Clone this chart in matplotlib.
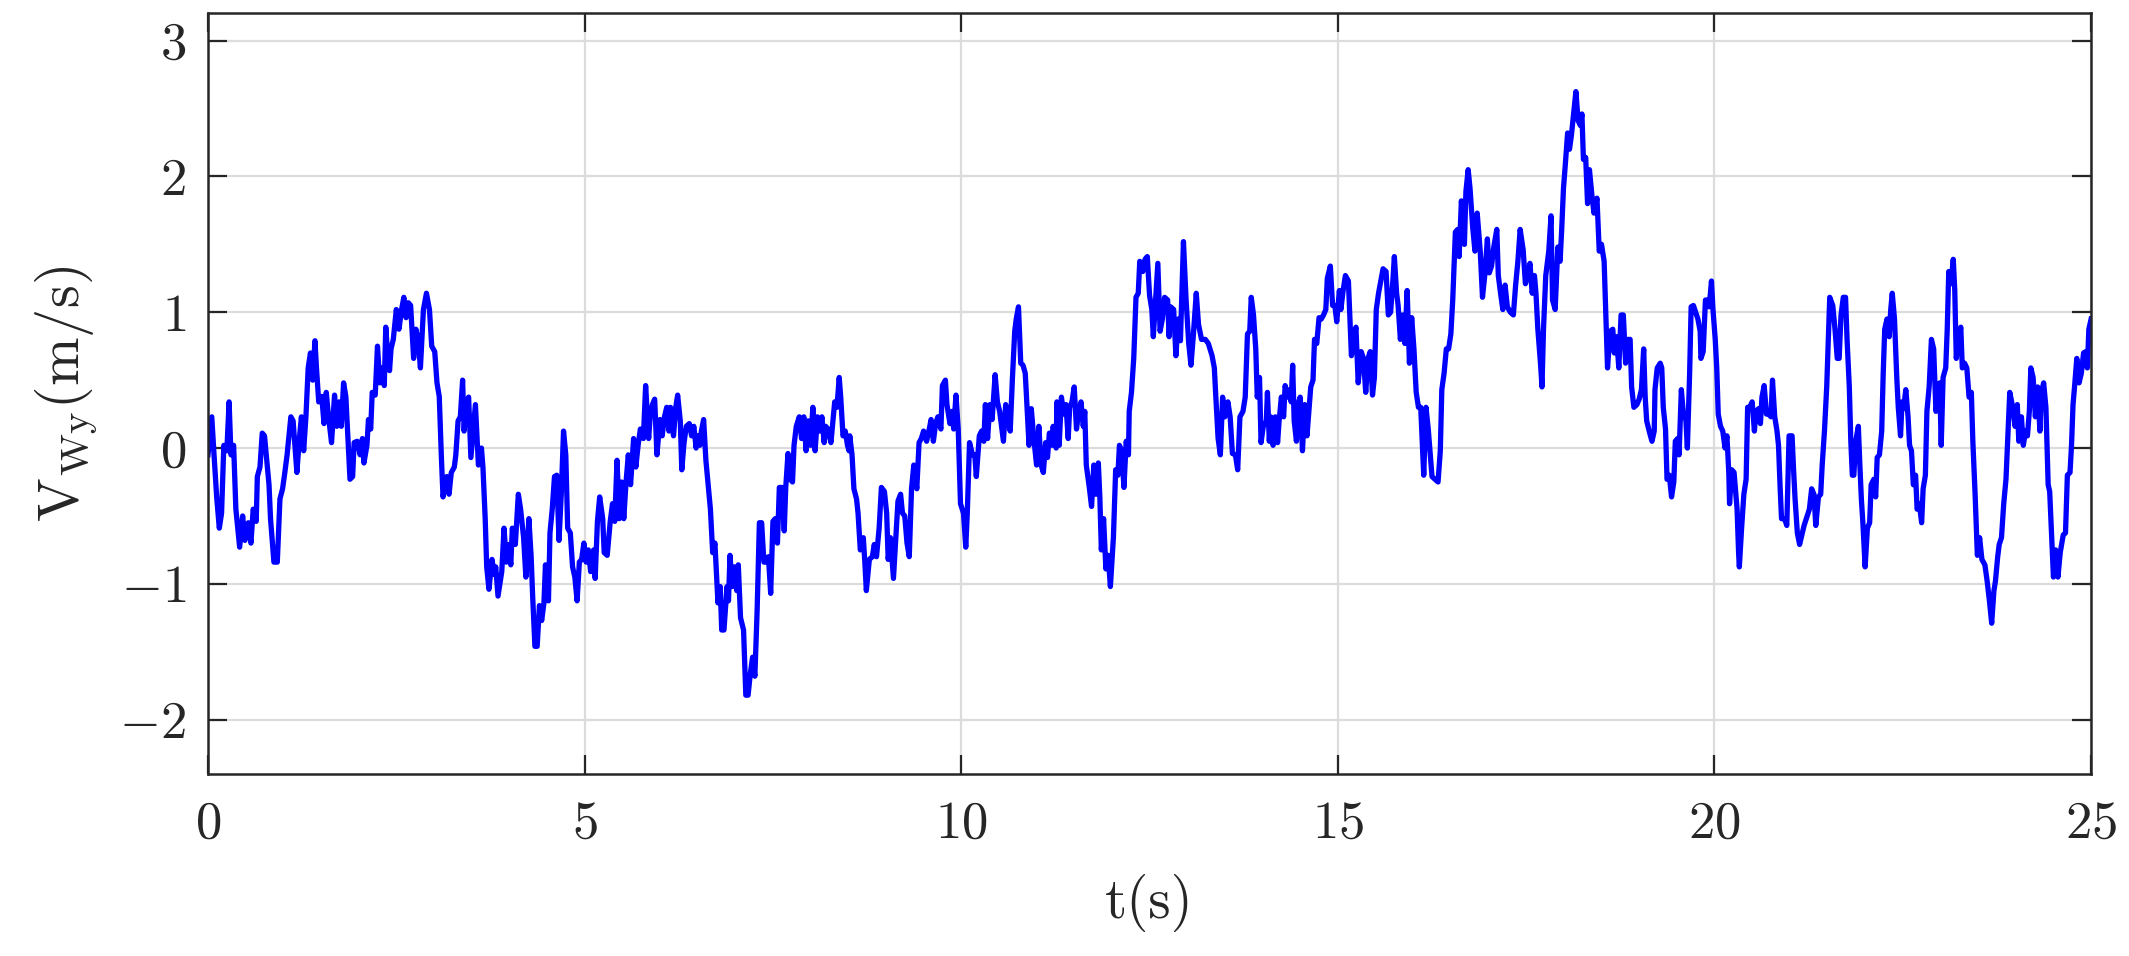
import numpy as np
import matplotlib
matplotlib.use("Agg")
import matplotlib.pyplot as plt

# wind speed V_Wy (m/s), (t, v) pairs per stretch of time
seg_a = [(0.00, -0.05), (0.05, 0.23), (0.08, -0.05), (0.115, -0.36), (0.15, -0.59), (0.18, -0.48),
         (0.21, 0.02), (0.25, -0.02), (0.28, 0.34), (0.305, -0.05), (0.34, 0.02), (0.37, -0.45),
         (0.42, -0.73), (0.46, -0.5), (0.49, -0.68), (0.535, -0.55), (0.57, -0.7), (0.60, -0.45),
         (0.64, -0.54), (0.655, -0.21), (0.69, -0.14), (0.72, 0.11), (0.75, 0.09), (0.78, -0.09),
         (0.81, -0.27), (0.83, -0.52), (0.875, -0.84), (0.92, -0.84), (0.955, -0.375), (0.99, -0.3),
         (1.02, -0.18), (1.05, -0.05), (1.10, 0.23), (1.13, 0.2), (1.18, -0.18), (1.21, 0.05),
         (1.24, 0.23), (1.27, -0.02), (1.30, 0.23), (1.33, 0.59), (1.36, 0.7), (1.39, 0.5),
         (1.42, 0.79), (1.44, 0.59), (1.47, 0.34), (1.51, 0.38), (1.54, 0.18), (1.57, 0.41),
         (1.60, 0.23), (1.64, 0.04), (1.68, 0.39), (1.71, 0.16), (1.74, 0.34), (1.77, 0.16),
         (1.80, 0.48), (1.83, 0.38), (1.86, 0.05), (1.885, -0.23), (1.92, -0.21), (1.94, 0.04),
         (1.98, 0.05), (2.02, -0.05), (2.05, 0.07), (2.07, -0.11), (2.11, 0.02), (2.13, 0.21),
         (2.16, 0.14), (2.18, 0.41), (2.22, 0.39), (2.25, 0.75), (2.28, 0.48), (2.31, 0.59),
         (2.34, 0.46), (2.36, 0.89), (2.38, 0.73), (2.41, 0.57), (2.43, 0.73), (2.46, 0.80),
         (2.50, 1.02), (2.535, 0.875), (2.57, 1.02), (2.60, 1.11), (2.63, 0.96), (2.66, 1.07),
         (2.69, 1.05), (2.73, 0.66), (2.76, 0.875), (2.79, 0.80), (2.82, 0.59), (2.86, 1.02),
         (2.90, 1.14), (2.94, 1.02), (2.97, 0.75), (3.01, 0.71), (3.04, 0.48), (3.07, 0.38),
         (3.10, -0.09), (3.12, -0.36), (3.17, -0.21), (3.20, -0.34), (3.23, -0.18), (3.27, -0.14),
         (3.29, -0.05), (3.32, 0.2), (3.35, 0.23), (3.38, 0.5), (3.40, 0.125), (3.43, 0.34),
         (3.46, 0.375), (3.49, -0.07), (3.52, 0.125), (3.55, 0.32), (3.59, -0.125), (3.63, 0.0),
         (3.65, -0.14), (3.68, -0.52), (3.70, -0.875), (3.73, -1.04), (3.77, -0.82), (3.80, -0.93),
         (3.82, -0.875), (3.85, -1.09), (3.90, -0.91), (3.93, -0.59), (3.96, -0.84), (3.99, -0.71),
         (4.02, -0.86), (4.04, -0.59), (4.08, -0.71), (4.12, -0.34), (4.15, -0.45), (4.19, -0.66),
         (4.22, -0.95)]

seg_b = [(4.26, -0.52), (4.29, -0.80), (4.31, -1.09), (4.34, -1.46), (4.37, -1.46), (4.40, -1.16),
         (4.43, -1.27), (4.46, -1.14), (4.48, -0.86), (4.52, -1.125), (4.54, -0.625), (4.57, -0.45),
         (4.60, -0.21), (4.63, -0.20), (4.66, -0.68), (4.69, -0.34), (4.72, 0.125), (4.75, -0.05),
         (4.775, -0.59), (4.81, -0.625), (4.84, -0.875), (4.87, -0.95), (4.90, -1.125), (4.93, -0.84),
         (4.96, -0.82), (4.99, -0.70), (5.02, -0.84), (5.05, -0.75), (5.08, -0.91), (5.12, -0.75),
         (5.14, -0.96), (5.17, -0.54), (5.20, -0.36), (5.24, -0.52), (5.26, -0.77), (5.30, -0.79),
         (5.34, -0.54), (5.37, -0.41), (5.40, -0.54), (5.43, -0.09), (5.46, -0.52), (5.49, -0.25),
         (5.52, -0.52), (5.55, -0.25), (5.58, -0.05), (5.61, -0.27), (5.65, 0.07), (5.68, -0.14),
         (5.71, 0.02), (5.74, 0.14), (5.78, 0.07), (5.81, 0.46), (5.85, 0.07), (5.87, 0.23),
         (5.90, 0.32), (5.93, 0.36), (5.96, -0.05), (6.00, 0.21), (6.03, 0.09), (6.06, 0.23),
         (6.09, 0.30), (6.12, 0.125), (6.14, 0.30), (6.18, 0.09), (6.21, 0.30), (6.235, 0.39),
         (6.27, 0.20), (6.29, -0.16), (6.32, 0.04), (6.35, 0.16), (6.39, 0.18), (6.42, 0.09),
         (6.45, 0.16), (6.48, 0.0), (6.50, 0.09), (6.53, 0.02), (6.55, 0.125), (6.58, 0.21),
         (6.61, -0.09), (6.64, -0.27), (6.67, -0.45), (6.70, -0.77), (6.73, -0.70), (6.77, -1.14),
         (6.80, -1.02), (6.82, -1.34), (6.85, -1.34), (6.89, -1.02), (6.91, -1.125), (6.93, -0.79),
         (6.96, -1.02), (6.99, -0.875), (7.02, -1.05), (7.04, -0.86), (7.07, -1.25), (7.11, -1.34),
         (7.14, -1.82), (7.17, -1.82), (7.20, -1.66), (7.23, -1.54), (7.26, -1.68), (7.29, -1.20),
         (7.32, -0.55), (7.35, -0.55), (7.38, -0.84), (7.41, -0.84), (7.44, -0.80), (7.47, -1.07),
         (7.50, -0.54), (7.53, -0.52), (7.56, -0.70), (7.585, -0.29), (7.62, -0.29), (7.65, -0.61),
         (7.67, -0.29), (7.70, -0.04), (7.73, -0.23), (7.76, -0.25), (7.78, 0.02), (7.81, 0.16),
         (7.85, 0.23), (7.88, 0.07), (7.91, 0.23), (7.94, -0.02), (7.97, 0.20), (8.00, 0.02),
         (8.03, 0.30), (8.06, -0.02), (8.09, 0.23), (8.12, 0.125), (8.15, 0.23), (8.18, 0.04),
         (8.20, 0.16), (8.23, 0.14), (8.27, 0.04), (8.29, 0.16), (8.32, 0.34), (8.35, 0.30),
         (8.38, 0.52), (8.40, 0.375), (8.43, 0.09), (8.46, 0.125), (8.49, 0.02), (8.51, -0.02)]

seg_c = [(8.52, 0.09), (8.55, -0.05), (8.575, -0.30), (8.61, -0.375), (8.63, -0.48), (8.66, -0.75),
         (8.70, -0.66), (8.72, -0.84), (8.74, -1.05), (8.78, -0.82), (8.82, -0.80), (8.845, -0.71),
         (8.875, -0.80), (8.91, -0.59), (8.94, -0.29), (8.98, -0.32), (9.01, -0.48), (9.03, -0.82),
         (9.06, -0.66), (9.10, -0.96), (9.13, -0.68), (9.16, -0.39), (9.195, -0.34), (9.22, -0.48),
         (9.25, -0.50), (9.28, -0.70), (9.31, -0.80), (9.34, -0.30), (9.37, -0.125), (9.41, -0.30),
         (9.44, 0.04), (9.47, 0.07), (9.50, 0.125), (9.54, 0.05), (9.57, 0.125), (9.60, 0.21),
         (9.63, 0.05), (9.66, 0.18), (9.69, 0.23), (9.73, 0.14), (9.75, 0.46), (9.79, 0.50),
         (9.81, 0.32), (9.85, 0.18), (9.88, 0.27), (9.90, 0.14), (9.93, 0.39), (9.96, 0.14),
         (9.99, -0.41), (10.03, -0.48), (10.06, -0.73), (10.08, -0.48), (10.11, 0.04), (10.15, -0.05),
         (10.18, -0.05), (10.20, -0.21), (10.24, 0.09), (10.27, 0.125), (10.30, 0.05), (10.32, 0.32),
         (10.35, 0.07), (10.38, 0.32), (10.41, 0.21), (10.45, 0.54), (10.48, 0.34), (10.51, 0.27),
         (10.56, 0.05), (10.59, 0.32), (10.62, 0.23), (10.65, 0.125), (10.68, 0.52), (10.71, 0.86),
         (10.73, 0.95), (10.76, 1.04), (10.79, 0.625), (10.82, 0.61), (10.85, 0.55), (10.88, 0.23),
         (10.90, 0.02), (10.93, 0.29), (10.96, 0.09), (11.00, -0.125), (11.03, 0.16), (11.06, -0.125),
         (11.09, -0.18), (11.12, 0.04), (11.145, -0.07), (11.17, 0.11), (11.20, 0.02), (11.22, 0.16),
         (11.26, 0.0), (11.27, 0.34), (11.30, 0.02), (11.33, 0.375), (11.36, 0.25), (11.39, 0.32),
         (11.42, 0.07), (11.44, 0.30), (11.47, 0.34), (11.50, 0.45), (11.53, 0.14), (11.56, 0.27),
         (11.59, 0.34), (11.62, 0.16), (11.64, 0.27), (11.66, -0.125), (11.70, -0.29), (11.73, -0.43),
         (11.76, -0.125), (11.79, -0.34), (11.82, -0.11), (11.84, -0.36), (11.86, -0.75), (11.89, -0.52),
         (11.92, -0.89), (11.95, -0.79), (11.98, -1.02), (12.02, -0.66), (12.05, -0.16), (12.08, -0.20),
         (12.10, 0.02), (12.13, -0.02), (12.16, -0.29), (12.19, 0.05), (12.22, -0.05), (12.23, 0.27),
         (12.26, 0.41), (12.29, 0.66), (12.32, 1.11), (12.35, 1.14), (12.37, 1.375), (12.41, 1.30),
         (12.44, 1.39), (12.47, 1.41), (12.50, 1.125), (12.53, 1.02), (12.55, 0.82), (12.58, 1.09),
         (12.61, 1.36), (12.64, 0.86), (12.67, 0.95), (12.70, 1.11), (12.74, 1.09), (12.76, 0.82)]

seg_d = [(12.78, 1.04), (12.82, 1.02), (12.85, 0.68), (12.88, 0.95), (12.91, 0.79), (12.95, 1.52),
         (12.985, 1.09), (13.02, 0.77), (13.05, 0.61), (13.08, 0.82), (13.12, 1.14), (13.15, 0.91),
         (13.19, 0.80), (13.24, 0.80), (13.28, 0.77), (13.33, 0.68), (13.36, 0.59), (13.38, 0.375),
         (13.41, 0.07), (13.44, -0.05), (13.47, 0.375), (13.50, 0.23), (13.54, 0.34), (13.57, 0.23),
         (13.60, -0.04), (13.64, -0.05), (13.67, -0.16), (13.70, 0.23), (13.74, 0.27), (13.77, 0.375),
         (13.80, 0.84), (13.83, 0.86), (13.85, 1.11), (13.88, 0.98), (13.91, 0.73), (13.93, 0.375),
         (13.96, 0.52), (13.98, 0.04), (14.01, 0.16), (14.05, 0.20), (14.065, 0.41), (14.09, 0.05),
         (14.11, 0.23), (14.14, 0.02), (14.17, 0.23), (14.20, 0.04), (14.22, 0.20), (14.25, 0.375),
         (14.28, 0.23), (14.30, 0.46), (14.33, 0.375), (14.36, 0.43), (14.38, 0.34), (14.40, 0.61),
         (14.42, 0.20), (14.45, 0.05), (14.48, 0.34), (14.50, 0.375), (14.53, -0.02), (14.56, 0.32),
         (14.59, 0.09), (14.62, 0.30), (14.64, 0.45), (14.67, 0.50), (14.69, 0.80), (14.72, 0.77),
         (14.75, 0.96), (14.78, 0.95), (14.81, 0.98), (14.84, 1.02), (14.86, 1.25), (14.90, 1.34),
         (14.93, 1.05), (14.96, 1.05), (14.985, 0.93), (15.02, 1.16), (15.04, 1.02), (15.07, 1.16),
         (15.10, 1.27), (15.14, 1.23), (15.16, 0.95), (15.18, 0.68), (15.22, 0.84), (15.24, 0.89),
         (15.27, 0.48), (15.31, 0.71), (15.34, 0.66), (15.37, 0.41), (15.40, 0.66), (15.43, 0.71),
         (15.46, 0.39), (15.485, 0.52), (15.51, 1.02), (15.54, 1.14), (15.57, 1.23), (15.60, 1.32),
         (15.64, 1.30), (15.67, 0.98), (15.70, 1.0), (15.73, 1.23), (15.75, 1.41), (15.78, 1.14),
         (15.80, 1.05), (15.83, 0.80), (15.86, 0.98), (15.89, 0.77), (15.92, 1.16), (15.95, 0.625),
         (15.98, 0.96), (16.01, 0.73), (16.04, 0.41), (16.07, 0.30), (16.10, 0.30), (16.14, -0.20),
         (16.17, 0.30), (16.20, 0.14), (16.22, 0.0), (16.25, -0.21), (16.29, -0.23), (16.33, -0.25),
         (16.36, -0.02), (16.38, 0.43), (16.41, 0.55), (16.44, 0.73), (16.47, 0.73), (16.50, 0.84),
         (16.525, 1.09), (16.56, 1.59), (16.59, 1.61), (16.61, 1.41), (16.64, 1.82), (16.68, 1.50),
         (16.70, 1.89), (16.73, 2.05), (16.755, 1.91), (16.79, 1.625), (16.82, 1.45), (16.85, 1.73),
         (16.89, 1.45), (16.92, 1.11), (16.95, 1.27), (16.985, 1.54)]

seg_e = [(17.01, 1.29), (17.04, 1.34), (17.07, 1.48), (17.11, 1.61), (17.13, 1.27), (17.16, 1.14),
         (17.19, 1.02), (17.22, 1.20), (17.25, 1.04), (17.29, 1.0), (17.33, 0.98), (17.36, 1.20),
         (17.39, 1.375), (17.42, 1.61), (17.46, 1.46), (17.49, 1.21), (17.52, 1.27), (17.55, 1.36),
         (17.58, 1.14), (17.61, 1.27), (17.63, 1.14), (17.655, 0.875), (17.69, 0.625), (17.71, 0.45),
         (17.73, 0.875), (17.76, 1.27), (17.80, 1.45), (17.83, 1.71), (17.85, 1.09), (17.885, 1.02),
         (17.92, 1.48), (17.95, 1.375), (17.97, 1.59), (17.995, 1.91), (18.02, 2.09), (18.05, 2.32),
         (18.075, 2.20), (18.10, 2.30), (18.13, 2.46), (18.16, 2.625), (18.19, 2.41), (18.22, 2.375),
         (18.24, 2.46), (18.26, 2.125), (18.29, 2.14), (18.315, 1.80), (18.34, 2.05), (18.37, 1.875),
         (18.40, 1.73), (18.44, 1.84), (18.47, 1.45), (18.50, 1.50), (18.535, 1.375), (18.56, 0.95),
         (18.58, 0.59), (18.615, 0.86), (18.65, 0.875), (18.67, 0.70), (18.70, 0.82), (18.73, 0.59),
         (18.76, 0.98), (18.79, 0.98), (18.82, 0.625), (18.85, 0.80), (18.88, 0.80), (18.90, 0.45),
         (18.93, 0.30), (18.97, 0.32), (19.00, 0.36), (19.03, 0.43), (19.06, 0.73), (19.08, 0.375),
         (19.10, 0.20), (19.14, 0.11), (19.17, 0.05), (19.20, 0.125), (19.21, 0.43), (19.24, 0.59),
         (19.28, 0.625), (19.30, 0.59), (19.32, 0.30), (19.35, 0.14), (19.37, -0.23), (19.40, -0.20),
         (19.43, -0.36), (19.46, -0.25), (19.48, 0.05), (19.51, 0.07), (19.53, -0.05), (19.56, 0.43),
         (19.59, 0.23), (19.62, 0.21), (19.64, 0.0), (19.67, 0.55), (19.69, 1.04), (19.72, 1.05),
         (19.75, 1.0), (19.78, 0.95), (19.81, 0.86), (19.82, 0.66), (19.85, 0.71), (19.88, 1.09),
         (19.91, 1.09), (19.93, 1.04), (19.96, 1.23), (19.98, 1.02), (20.01, 0.80), (20.03, 0.59),
         (20.05, 0.25), (20.08, 0.16), (20.11, 0.125), (20.14, 0.0), (20.165, 0.09), (20.19, -0.18),
         (20.20, -0.41), (20.23, -0.16), (20.26, -0.18), (20.30, -0.45), (20.32, -0.77), (20.33, -0.875),
         (20.36, -0.59), (20.39, -0.34), (20.42, -0.23), (20.44, 0.30), (20.47, 0.30), (20.50, 0.34),
         (20.53, 0.125), (20.55, 0.27), (20.585, 0.29), (20.61, 0.18), (20.63, 0.375), (20.66, 0.46),
         (20.69, 0.25), (20.72, 0.25), (20.75, 0.23), (20.77, 0.50), (20.80, 0.23), (20.83, 0.125),
         (20.85, 0.02), (20.87, -0.27), (20.89, -0.52), (20.93, -0.52), (20.96, -0.57), (20.99, 0.09),
         (21.03, 0.09), (21.05, -0.16), (21.07, -0.375), (21.10, -0.625), (21.13, -0.71), (21.16, -0.64),
         (21.19, -0.57), (21.23, -0.50), (21.26, -0.45)]

seg_f = [(21.29, -0.30), (21.32, -0.34), (21.345, -0.57), (21.38, -0.36), (21.41, -0.34), (21.43, -0.125),
         (21.46, 0.125), (21.49, 0.45), (21.51, 0.77), (21.53, 1.11), (21.57, 1.05), (21.60, 0.875),
         (21.63, 0.66), (21.655, 0.66), (21.68, 0.98), (21.71, 1.11), (21.74, 1.11), (21.76, 0.80),
         (21.79, 0.45), (21.81, 0.05), (21.83, -0.20), (21.85, -0.20), (21.875, 0.05), (21.91, 0.16),
         (21.93, -0.125), (21.95, -0.375), (21.97, -0.55), (22.00, -0.875), (22.03, -0.59), (22.06, -0.55),
         (22.08, -0.27), (22.115, -0.23), (22.14, -0.36), (22.16, -0.07), (22.19, -0.05), (22.22, 0.125),
         (22.24, 0.55), (22.26, 0.875), (22.29, 0.95), (22.32, 0.82), (22.34, 1.02), (22.36, 1.14),
         (22.39, 0.95), (22.42, 0.52), (22.44, 0.30), (22.47, 0.09), (22.49, 0.34), (22.51, 0.29),
         (22.54, 0.43), (22.57, 0.23), (22.59, 0.02), (22.615, -0.02), (22.64, -0.27), (22.67, -0.20),
         (22.69, -0.45), (22.72, -0.41), (22.75, -0.55), (22.77, -0.30), (22.80, -0.20), (22.82, 0.27),
         (22.85, 0.45), (22.88, 0.80), (22.91, 0.73), (22.94, 0.27), (22.97, 0.375), (22.99, 0.48),
         (23.01, 0.02), (23.035, 0.52), (23.07, 0.59), (23.09, 0.875), (23.11, 1.30), (23.14, 1.21),
         (23.17, 1.39), (23.19, 1.16), (23.21, 0.66), (23.24, 0.80), (23.27, 0.89), (23.29, 0.59),
         (23.32, 0.625), (23.35, 0.59), (23.38, 0.375), (23.41, 0.41), (23.43, 0.05), (23.46, -0.34),
         (23.49, -0.79), (23.52, -0.66), (23.55, -0.82), (23.59, -0.86), (23.62, -0.98), (23.65, -1.125),
         (23.68, -1.29), (23.71, -1.05), (23.73, -0.98), (23.76, -0.80), (23.78, -0.71), (23.81, -0.66),
         (23.84, -0.41), (23.87, -0.23), (23.90, 0.16), (23.92, 0.41), (23.96, 0.30), (23.99, 0.16),
         (24.02, 0.32), (24.04, 0.05), (24.075, 0.23), (24.10, 0.02), (24.13, 0.125), (24.155, 0.09),
         (24.18, 0.27), (24.20, 0.59), (24.23, 0.52), (24.26, 0.23), (24.29, 0.45), (24.32, 0.125),
         (24.34, 0.41), (24.37, 0.48), (24.40, 0.30), (24.43, -0.27), (24.45, -0.32), (24.47, -0.57),
         (24.50, -0.95), (24.53, -0.75), (24.56, -0.95), (24.59, -0.77), (24.63, -0.64), (24.66, -0.625),
         (24.685, -0.20), (24.72, -0.18), (24.74, 0.02), (24.76, 0.32), (24.78, 0.45), (24.81, 0.66),
         (24.84, 0.48), (24.87, 0.55), (24.90, 0.70), (24.93, 0.71), (24.95, 0.59), (24.97, 0.875),
         (25.00, 0.95)]

x_ticks = [0, 5, 10, 15, 20, 25]
y_ticks = [-2, -1, 0, 1, 2, 3]

data = np.array(seg_a + seg_b + seg_c + seg_d + seg_e + seg_f)
t = data[:, 0]
v = data[:, 1]

plt.rcParams['font.family'] = 'serif'
plt.rcParams['font.serif'] = ['cmr10']
plt.rcParams['mathtext.fontset'] = 'cm'
plt.rcParams['axes.formatter.use_mathtext'] = True

fig = plt.figure(figsize=(21.29, 9.56), dpi=100)
ax = fig.add_axes([0.0977, 0.1904, 0.8845, 0.7955])

ax.plot(t, v, color='#0000ff', linewidth=3.8)

ax.set_xlim(0, 25)
ax.set_ylim(-2.4, 3.2)
ax.set_xticks(x_ticks)
ax.set_yticks(y_ticks)
ax.grid(True, color='#dcdcdc', linewidth=1.6)
ax.set_axisbelow(True)
ax.tick_params(direction='in', length=14, width=1.6, top=True, right=True,
               labelsize=38, colors='#262626')
ax.tick_params(axis='x', pad=19)
ax.tick_params(axis='y', pad=16)
for s in ax.spines.values():
    s.set_color('#262626')
    s.set_linewidth(1.8)

ax.set_xlabel('t(s)', fontsize=41, color='#262626')
ax.set_ylabel(r'$\mathrm{V_{Wy}(m/s)}$', fontsize=42, color='#262626')
ax.xaxis.set_label_coords(0.5, -0.132)
ax.yaxis.set_label_coords(-0.058, 0.5)

fig.savefig('out.png', dpi=100)
